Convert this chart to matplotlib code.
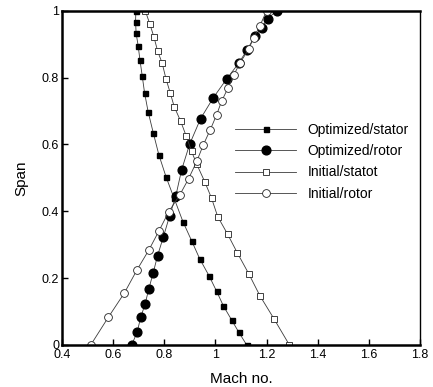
import matplotlib
matplotlib.use('Agg')
import matplotlib.pyplot as plt

plt.rcParams['font.family'] = ['Liberation Sans', 'DejaVu Sans']

# Optimized / stator
opt_stator_mach = [0.689, 0.688, 0.690, 0.698, 0.705, 0.714, 0.723, 0.737, 0.757, 0.779, 0.807,
                   0.838, 0.873, 0.908, 0.939, 0.975, 1.005, 1.031, 1.063, 1.092, 1.122]
opt_stator_span = [1.0, 0.968, 0.933, 0.896, 0.853, 0.805, 0.755, 0.698, 0.635, 0.569, 0.503,
                   0.440, 0.369, 0.310, 0.257, 0.207, 0.160, 0.117, 0.075, 0.037, 0.0]

# Optimized / rotor
opt_rotor_mach = [0.673, 0.694, 0.708, 0.725, 0.740, 0.757, 0.774, 0.797, 0.821, 0.845, 0.868,
                  0.899, 0.942, 0.992, 1.044, 1.091, 1.124, 1.155, 1.181, 1.204, 1.239]
opt_rotor_span = [0.0, 0.038, 0.082, 0.122, 0.168, 0.216, 0.267, 0.324, 0.386, 0.445, 0.524,
                  0.600, 0.677, 0.740, 0.796, 0.843, 0.883, 0.925, 0.950, 0.976, 1.0]

# Initial / stator
ini_stator_mach = [0.726, 0.744, 0.760, 0.774, 0.792, 0.807, 0.824, 0.839, 0.864, 0.886, 0.907,
                   0.927, 0.958, 0.985, 1.009, 1.048, 1.086, 1.131, 1.174, 1.229, 1.289]
ini_stator_span = [1.0, 0.960, 0.921, 0.880, 0.843, 0.796, 0.753, 0.713, 0.670, 0.625, 0.579,
                   0.541, 0.489, 0.439, 0.384, 0.331, 0.275, 0.212, 0.147, 0.078, 0.0]

# Initial / rotor
ini_rotor_mach = [0.513, 0.581, 0.644, 0.694, 0.740, 0.780, 0.818, 0.861, 0.895, 0.927, 0.953,
                  0.980, 1.005, 1.024, 1.050, 1.072, 1.097, 1.130, 1.150, 1.174, 1.200]
ini_rotor_span = [0.0, 0.082, 0.155, 0.225, 0.284, 0.342, 0.399, 0.449, 0.497, 0.549, 0.599,
                  0.644, 0.689, 0.729, 0.770, 0.808, 0.845, 0.885, 0.920, 0.955, 1.0]

fig = plt.figure(figsize=(4.33, 3.87), dpi=100)
ax = fig.add_axes([0.143, 0.109, 0.827, 0.863])

lc = '#3a3a3a'
ax.plot(opt_stator_mach, opt_stator_span, color=lc, lw=0.6, marker='s', ms=3.6,
        mfc='black', mec='black', label='Optimized/stator')
ax.plot(opt_rotor_mach, opt_rotor_span, color=lc, lw=0.6, marker='o', ms=6.3,
        mfc='black', mec='black', label='Optimized/rotor')
ax.plot(ini_stator_mach, ini_stator_span, color=lc, lw=0.6, marker='s', ms=4.2,
        mfc='white', mec='#222222', mew=0.6, label='Initial/statot')
ax.plot(ini_rotor_mach, ini_rotor_span, color=lc, lw=0.6, marker='o', ms=5.6,
        mfc='white', mec='#222222', mew=0.6, label='Initial/rotor')

ax.set_xlim(0.4, 1.8)
ax.set_ylim(0, 1)
ax.set_xticks([0.4, 0.6, 0.8, 1.0, 1.2, 1.4, 1.6, 1.8])
ax.set_xticklabels(['0.4', '0.6', '0.8', '1', '1.2', '1.4', '1.6', '1.8'])
ax.set_yticks([0, 0.2, 0.4, 0.6, 0.8, 1.0])
ax.set_yticklabels(['0', '0.2', '0.4', '0.6', '0.8', '1'])
ax.tick_params(direction='in', length=4, width=1, labelsize=9, pad=3)
ax.tick_params(axis='y', pad=2)

for side in ['left', 'bottom', 'top']:
    ax.spines[side].set_linewidth(1.8)
ax.spines['right'].set_linewidth(1.0)

ax.set_xlabel('Mach no.', fontsize=11, labelpad=8)
ax.set_ylabel('Span', fontsize=11, labelpad=10)

ax.legend(loc='upper left', bbox_to_anchor=(0.465, 0.685), frameon=False, fontsize=10,
          handlelength=4.4, handletextpad=0.8, labelspacing=0.52, borderpad=0)

fig.savefig('out.png', dpi=100)
